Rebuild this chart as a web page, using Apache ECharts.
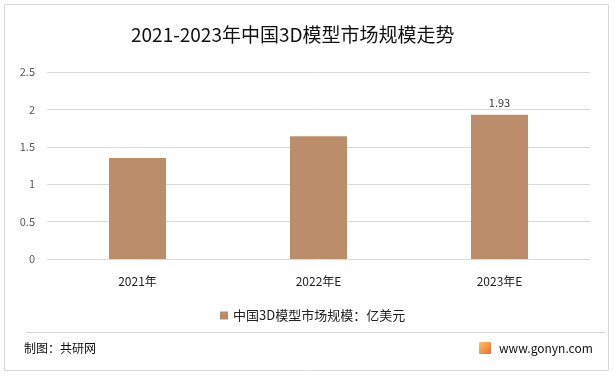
<!DOCTYPE html>
<html>
<head>
<meta charset="utf-8">
<script src="https://cdn.jsdelivr.net/npm/echarts@6/dist/echarts.min.js"></script>
<style>
  html, body { margin: 0; padding: 0; background: #fff; }
  #chart { width: 615px; height: 378px; }
</style>
</head>
<body>
<div id="chart"></div>
<script>
const years = ['2021年', '2022年E', '2023年E'];
const marketSize = [1.35, 1.64, 1.93];
const seriesName = '中国3D模型市场规模：亿美元';
const yTicks = [0, 0.5, 1, 1.5, 2, 2.5];

const font = '"Noto Sans CJK SC", "Noto Sans", sans-serif';
const barColor = '#BC8D6B';

const chart = echarts.init(document.getElementById('chart'));

chart.setOption({
  animation: false,
  textStyle: { fontFamily: font },
  title: {
    text: '2021-2023年中国3D模型市场规模走势',
    left: 126,
    top: 20,
    textStyle: { fontSize: 19, fontWeight: 'normal', color: '#111', fontFamily: font }
  },
  grid: { left: 47, right: 25, top: 72, bottom: 119 },
  legend: {
    data: [seriesName],
    top: 304,
    left: 215,
    itemWidth: 8,
    itemHeight: 8,
    icon: 'rect',
    itemGap: 4,
    textStyle: { fontSize: 13, color: '#222', fontFamily: font }
  },
  xAxis: {
    type: 'category',
    data: years,
    axisLine: { show: false },
    axisTick: { show: false },
    axisLabel: { color: '#222', fontSize: 12, margin: 16, fontFamily: font }
  },
  yAxis: {
    type: 'value',
    min: yTicks[0],
    max: yTicks[yTicks.length - 1],
    interval: 0.5,
    axisLine: { show: false },
    axisTick: { show: false },
    axisLabel: { color: '#595959', fontSize: 11, margin: 12, fontFamily: font },
    splitLine: { lineStyle: { color: '#d9d9d9', width: 1 } }
  },
  series: [{
    name: seriesName,
    type: 'bar',
    data: marketSize.map((v, i) => ({
      value: v,
      label: { show: i === marketSize.length - 1 }
    })),
    barWidth: '31.5%',
    itemStyle: { color: barColor },
    label: {
      position: 'top',
      distance: 6,
      color: '#333',
      fontSize: 11,
      fontFamily: font
    }
  }],
  graphic: [
    {
      type: 'rect',
      shape: { x: 4.5, y: 4.5, width: 604, height: 366 },
      style: { fill: 'none', stroke: '#d9d9d9', lineWidth: 1 },
      silent: true
    },
    {
      type: 'line',
      shape: { x1: 26, y1: 332.5, x2: 605, y2: 332.5 },
      style: { stroke: '#d9d9d9', lineWidth: 1 },
      silent: true
    },
    {
      type: 'text',
      left: 24,
      top: 342,
      style: { text: '制图：共研网', fontSize: 12, fill: '#111', fontFamily: font }
    },
    {
      type: 'rect',
      shape: { x: 479, y: 342, width: 12, height: 12, r: 1 },
      style: {
        fill: new echarts.graphic.LinearGradient(0, 0, 1, 1, [
          { offset: 0, color: '#f7c55a' },
          { offset: 1, color: '#ef6a3c' }
        ])
      }
    },
    {
      type: 'text',
      left: 499,
      top: 342,
      style: { text: 'www.gonyn.com', fontSize: 12, fill: '#111', fontFamily: font }
    }
  ]
});
</script>
</body>
</html>
